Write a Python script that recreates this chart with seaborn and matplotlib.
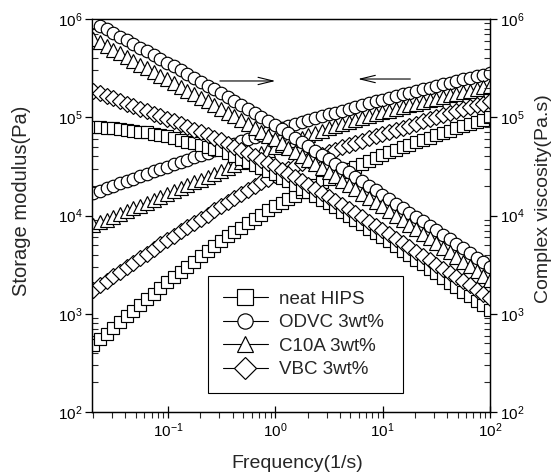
import matplotlib
matplotlib.use("Agg")
import matplotlib.pyplot as plt
import matplotlib.ticker as mticker
import pandas as pd
import seaborn as sns

# Oscillatory frequency sweep (1/s)
frequency = [
    0.0200, 0.0231, 0.0267, 0.0308, 0.0356, 0.0411, 0.0475, 0.0549, 0.0635, 0.0733,
    0.0847, 0.0979, 0.113, 0.131, 0.151, 0.174, 0.201, 0.233, 0.269, 0.310,
    0.359, 0.415, 0.479, 0.553, 0.639, 0.738, 0.853, 0.986, 1.14, 1.32,
    1.52, 1.76, 2.03, 2.34, 2.71, 3.13, 3.61, 4.18, 4.82, 5.57,
    6.44, 7.44, 8.59, 9.93, 11.5, 13.2, 15.3, 17.7, 20.4, 23.6,
    27.3, 31.5, 36.4, 42.1, 48.6, 56.1, 64.9, 74.9, 86.5, 100.0,
]

series_names = ["neat HIPS", "ODVC 3wt%", "C10A 3wt%", "VBC 3wt%"]

# Storage modulus G' (Pa)
storage_neat = [
    479, 547, 627, 716, 818, 938, 1070, 1220, 1400, 1600,
    1830, 2090, 2370, 2670, 3020, 3400, 3850, 4350, 4910, 5530,
    6150, 6810, 7520, 8320, 9200, 10200, 11300, 12500, 13500, 14700,
    15900, 17300, 18700, 20300, 22000, 23800, 25600, 27400, 29400, 31500,
    33700, 36200, 38700, 41600, 44100, 46700, 49400, 52400, 55500, 58700,
    62200, 65900, 69500, 73300, 77100, 81300, 85500, 90200, 94800, 100000,
]
storage_odvc = [
    17000, 17900, 19000, 20100, 21200, 22400, 23700, 25100, 26500, 28100,
    29600, 31400, 33100, 35000, 37000, 39100, 41300, 43600, 46000, 48600,
    51300, 54000, 56900, 59800, 63100, 66400, 70000, 73800, 77300, 80900,
    84700, 88700, 92900, 97300, 102000, 107000, 111000, 116000, 122000, 127000,
    133000, 139000, 145000, 151000, 157000, 164000, 171000, 177000, 185000, 192000,
    200000, 208000, 217000, 225000, 233000, 243000, 252000, 262000, 272000, 282000,
]
storage_c10a = [
    7940, 8490, 9060, 9680, 10400, 11100, 11800, 12600, 13500, 14400,
    15400, 16400, 17600, 18900, 20200, 21700, 23200, 24900, 26700, 28600,
    30600, 32900, 35200, 37800, 40500, 43400, 46500, 49800, 52600, 55600,
    58700, 62100, 65600, 69300, 73300, 77300, 81100, 84900, 88900, 93100,
    97500, 102000, 107000, 112000, 117000, 121000, 126000, 132000, 137000, 143000,
    149000, 155000, 161000, 167000, 173000, 180000, 187000, 194000, 201000, 209000,
]
storage_vbc = [
    1740, 1940, 2150, 2400, 2670, 2970, 3310, 3680, 4100, 4560,
    5080, 5660, 6250, 6900, 7620, 8390, 9270, 10200, 11300, 12400,
    13600, 15000, 16400, 18000, 19800, 21700, 23800, 26100, 27900, 29900,
    31900, 34100, 36400, 38900, 41600, 44500, 46900, 49400, 52000, 54800,
    57700, 60800, 64000, 67500, 70800, 74300, 78200, 82000, 86100, 90600,
    95100, 99800, 105000, 110000, 115000, 120000, 126000, 132000, 138000, 145000,
]

# Complex viscosity |eta*| (Pa.s)
viscosity_neat = [
    80400, 79400, 78500, 77400, 76200, 74800, 73300, 71600, 70000, 68100,
    66100, 64000, 61000, 58600, 56200, 54100, 51900, 49800, 47900, 45900,
    43100, 40100, 37500, 34900, 32600, 30400, 28400, 26500, 24300, 22300,
    20500, 18700, 17200, 15800, 14500, 13300, 12100, 10900, 9910, 8970,
    8130, 7360, 6680, 6050, 5450, 4900, 4400, 3940, 3560, 3190,
    2860, 2580, 2320, 2080, 1870, 1680, 1510, 1360, 1220, 1100,
]
viscosity_odvc = [
    933000, 855000, 785000, 719000, 661000, 605000, 555000, 509000, 467000, 429000,
    393000, 360000, 329000, 301000, 275000, 252000, 230000, 210000, 192000, 176000,
    160000, 146000, 133000, 121000, 111000, 101000, 92000, 83900, 76000, 68700,
    62100, 56000, 50700, 45800, 41400, 37400, 33700, 30400, 27400, 24700,
    22300, 20000, 18100, 16300, 14700, 13200, 11900, 10700, 9700, 8730,
    7870, 7100, 6380, 5730, 5150, 4630, 4160, 3730, 3370, 3020,
]
viscosity_c10a = [
    631000, 578000, 531000, 486000, 447000, 409000, 375000, 344000, 316000, 290000,
    265000, 243000, 223000, 204000, 187000, 172000, 158000, 145000, 132000, 122000,
    111000, 102000, 92900, 84900, 77600, 71100, 65000, 59400, 54100, 49100,
    44700, 40600, 36900, 33600, 30500, 27700, 25100, 22600, 20500, 18500,
    16700, 15100, 13700, 12400, 11100, 10000, 8970, 8050, 7260, 6520,
    5850, 5260, 4720, 4230, 3790, 3400, 3040, 2720, 2440, 2190,
]
viscosity_vbc = [
    186000, 175000, 165000, 156000, 147000, 138000, 130000, 122000, 116000, 109000,
    103000, 96600, 90600, 84900, 79600, 74800, 70100, 65900, 61800, 58100,
    53800, 50000, 46300, 43100, 39900, 37100, 34400, 31800, 29200, 26700,
    24400, 22300, 20400, 18700, 17100, 15600, 14200, 12800, 11600, 10500,
    9550, 8650, 7850, 7110, 6430, 5820, 5250, 4740, 4300, 3880,
    3510, 3170, 2880, 2610, 2370, 2140, 1940, 1760, 1600, 1450,
]

storage = [storage_neat, storage_odvc, storage_c10a, storage_vbc]
viscosity = [viscosity_neat, viscosity_odvc, viscosity_c10a, viscosity_vbc]
markers = ["s", "o", "^", "D"]
marker_sizes = {"s": 8.6, "o": 9.0, "^": 9.4, "D": 8.2}

sns.set_theme(style="ticks")
plt.rcParams["font.family"] = ["Liberation Sans", "DejaVu Sans"]
plt.rcParams["mathtext.fontset"] = "custom"
plt.rcParams["mathtext.rm"] = "Liberation Sans"
plt.rcParams["mathtext.it"] = "Liberation Sans:italic"

fig = plt.figure(figsize=(5.54, 4.74), dpi=100)
ax = fig.add_axes([92 / 554, 1 - 412 / 474, 398 / 554, 393 / 474])
ax2 = ax.twinx()

for name, gp, eta, mk in zip(series_names, storage, viscosity, markers):
    style = dict(color="black", markerfacecolor="white", markeredgecolor="black",
                 markersize=marker_sizes[mk], markeredgewidth=0.85, linewidth=0.8,
                 legend=False)
    df = pd.DataFrame({"frequency": frequency, "storage": gp, "viscosity": eta})
    sns.lineplot(data=df, x="frequency", y="storage", ax=ax, marker=mk, **style)
    sns.lineplot(data=df, x="frequency", y="viscosity", ax=ax2, marker=mk, **style)

for a in (ax, ax2):
    a.set_xscale("log")
    a.set_yscale("log")
    a.set_xlim(0.0195, 100)
    a.set_ylim(100, 1e6)
    a.set_xlabel("")
    a.set_ylabel("")
    a.yaxis.set_major_locator(mticker.LogLocator(base=10, numticks=10))
    a.yaxis.set_minor_locator(mticker.LogLocator(base=10, subs=range(2, 10), numticks=10))
    a.yaxis.set_minor_formatter(mticker.NullFormatter())
    for s in a.spines.values():
        s.set_color("black")
        s.set_linewidth(0.9)

ax.xaxis.set_major_locator(mticker.LogLocator(base=10, numticks=10))
ax.xaxis.set_minor_locator(mticker.LogLocator(base=10, subs=range(2, 10), numticks=10))
ax.xaxis.set_minor_formatter(mticker.NullFormatter())
ax.tick_params(axis="x", which="major", direction="inout", length=8, width=0.9,
               labelsize=11, colors="black", pad=3)
ax.tick_params(axis="x", which="minor", direction="out", length=4, width=0.8)
ax.tick_params(axis="y", which="major", direction="out", length=5, width=0.9,
               labelsize=11, colors="black", pad=2)
ax.tick_params(axis="y", which="minor", direction="in", length=4, width=0.8)
ax2.tick_params(axis="y", which="major", direction="out", length=5, width=0.9,
                labelsize=11, colors="black", pad=2)
ax2.tick_params(axis="y", which="minor", direction="in", length=4, width=0.8)

# Direction arrows for the two families of curves
arrow = dict(arrowstyle="->,head_length=0.9,head_width=0.22", lw=0.8, color="black")
ax.annotate("", xy=(1.06, 2.34e5), xytext=(0.286, 2.34e5), arrowprops=arrow)
ax.annotate("", xy=(5.54, 2.45e5), xytext=(19.2, 2.45e5), arrowprops=arrow)

handles = [plt.Line2D([], [], color="black", lw=0.8, marker=mk, markersize=11,
                      markerfacecolor="white", markeredgecolor="black",
                      markeredgewidth=0.85) for mk in markers]
leg = ax.legend(handles, series_names, loc="lower left", mode="expand",
                bbox_to_anchor=(0.291, 0.048, 0.49, 0.288), fontsize=13.5,
                frameon=True, fancybox=False, edgecolor="black", framealpha=1,
                handlelength=2.4, handletextpad=0.6, labelspacing=0.34,
                borderpad=0.8, borderaxespad=0)
leg.get_frame().set_linewidth(0.8)

fig.text(22 / 554, 1 - 201 / 474, "Storage modulus(Pa)", rotation=90,
         ha="center", va="center", fontsize=14.5)
fig.text(543 / 554, 1 - 199 / 474, "Complex viscosity(Pa.s)", rotation=90,
         ha="center", va="center", fontsize=14)
fig.text(297 / 554, 1 - 463 / 474, "Frequency(1/s)", ha="center", va="center",
         fontsize=14)

fig.savefig("out.png", dpi=100, facecolor="white")
